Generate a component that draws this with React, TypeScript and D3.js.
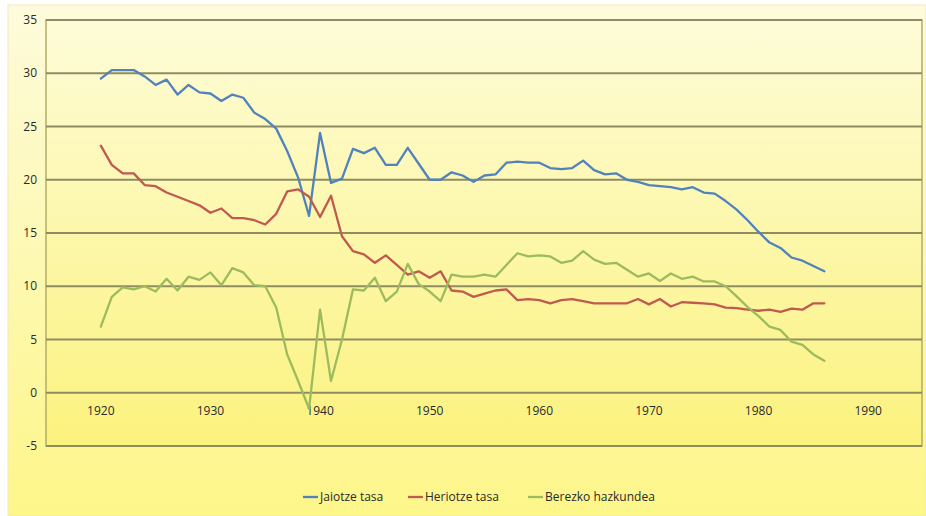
import React, { useEffect, useRef } from 'react';
import * as d3 from 'd3';

const years = d3.range(1920, 1987);

// Jaiotze tasa (birth rate)
const birthRate = [
  29.5, 30.3, 30.3, 30.3, 29.7, 28.9, 29.4, 28.0, 28.9, 28.2,
  28.1, 27.4, 28.0, 27.7, 26.3, 25.7, 24.8, 22.7, 20.2, 16.6,
  24.4, 19.7, 20.1, 22.9, 22.5, 23.0, 21.4, 21.4, 23.0, 21.5,
  20.0, 20.0, 20.7, 20.4, 19.8, 20.4, 20.5, 21.6, 21.7, 21.6,
  21.6, 21.1, 21.0, 21.1, 21.8, 20.9, 20.5, 20.6, 20.0, 19.8,
  19.5, 19.4, 19.3, 19.1, 19.3, 18.8, 18.7, 18.0, 17.2, 16.2,
  15.1, 14.1, 13.6, 12.7, 12.4, 11.9, 11.4,
];

// Heriotze tasa (death rate)
const deathRate = [
  23.2, 21.4, 20.6, 20.6, 19.5, 19.4, 18.8, 18.4, 18.0, 17.6,
  16.9, 17.3, 16.4, 16.4, 16.2, 15.8, 16.8, 18.9, 19.1, 18.4,
  16.5, 18.5, 14.7, 13.3, 13.0, 12.2, 12.9, 12.0, 11.1, 11.4,
  10.8, 11.4, 9.6, 9.5, 9.0, 9.3, 9.6, 9.7, 8.7, 8.8,
  8.7, 8.4, 8.7, 8.8, 8.6, 8.4, 8.4, 8.4, 8.4, 8.8,
  8.3, 8.8, 8.1, 8.5, 8.45, 8.4, 8.3, 8.0, 7.95, 7.8,
  7.7, 7.8, 7.6, 7.9, 7.8, 8.4, 8.4,
];

// Berezko hazkundea (natural growth)
const naturalGrowth = [
  6.2, 9.0, 9.9, 9.7, 10.0, 9.5, 10.7, 9.6, 10.9, 10.6,
  11.3, 10.1, 11.7, 11.3, 10.1, 10.0, 8.0, 3.6, 1.1, -1.5,
  7.8, 1.1, 5.0, 9.7, 9.6, 10.8, 8.6, 9.5, 12.1, 10.2,
  9.5, 8.6, 11.1, 10.9, 10.9, 11.1, 10.9, 12.0, 13.1, 12.8,
  12.9, 12.8, 12.2, 12.4, 13.3, 12.5, 12.1, 12.2, 11.55, 10.9,
  11.2, 10.5, 11.2, 10.7, 10.9, 10.45, 10.45, 10.0, 9.05, 8.05,
  7.2, 6.2, 5.9, 4.8, 4.5, 3.6, 3.0,
];

const yTicks = [-5, 0, 5, 10, 15, 20, 25, 30, 35];
const xTicks = [1920, 1930, 1940, 1950, 1960, 1970, 1980, 1990];

const series = [
  { name: 'Jaiotze tasa', values: birthRate, color: '#5182bb' },
  { name: 'Heriotze tasa', values: deathRate, color: '#bf5a4e' },
  { name: 'Berezko hazkundea', values: naturalGrowth, color: '#9dbb5e' },
];

const W = 926;
const H = 516;

export default function App() {
  const svgRef = useRef<SVGSVGElement>(null);

  useEffect(() => {
    if (!svgRef.current) return;
    const svg = d3.select(svgRef.current);
    svg.selectAll('*').remove();

    const plot = { left: 46, right: 922, top: 20, bottom: 446 };
    const font = '"Open Sans", "Liberation Sans", sans-serif';

    const defs = svg.append('defs');
    const outerGrad = defs.append('linearGradient')
      .attr('id', 'outerGrad').attr('x1', 0).attr('y1', 0).attr('x2', 0).attr('y2', 1);
    outerGrad.append('stop').attr('offset', '0%').attr('stop-color', '#fdfbdc');
    outerGrad.append('stop').attr('offset', '100%').attr('stop-color', '#fdf689');

    const plotGrad = defs.append('linearGradient')
      .attr('id', 'plotGrad').attr('x1', 0).attr('y1', 0).attr('x2', 0).attr('y2', 1);
    plotGrad.append('stop').attr('offset', '0%').attr('stop-color', '#fefcd8');
    plotGrad.append('stop').attr('offset', '100%').attr('stop-color', '#fbf27e');

    svg.append('rect').attr('width', W).attr('height', H).attr('fill', '#ffffff');
    svg.append('rect')
      .attr('x', 8).attr('y', 5).attr('width', W - 8).attr('height', H - 5)
      .attr('fill', 'url(#outerGrad)')
      .attr('stroke', '#efe9b8').attr('stroke-width', 1);

    const x = d3.scaleLinear().domain([1915, 1995]).range([plot.left, plot.right + 1]);
    const y = d3.scaleLinear().domain([-5, 35]).range([plot.bottom, plot.top]);

    svg.append('rect')
      .attr('x', plot.left).attr('y', plot.top)
      .attr('width', plot.right - plot.left).attr('height', plot.bottom - plot.top)
      .attr('fill', 'url(#plotGrad)')
      .attr('stroke', '#b3ad66').attr('stroke-width', 1.5);

    // horizontal gridlines
    svg.append('g')
      .selectAll('line')
      .data(yTicks)
      .enter()
      .append('line')
      .attr('x1', plot.left).attr('x2', plot.right)
      .attr('y1', d => y(d)).attr('y2', d => y(d))
      .attr('stroke', '#8f8c62')
      .attr('stroke-width', 2);

    // y labels
    svg.append('g')
      .selectAll('text')
      .data(yTicks)
      .enter()
      .append('text')
      .attr('x', 37)
      .attr('y', d => y(d) + 4)
      .attr('text-anchor', 'end')
      .style('font-family', font)
      .style('font-size', '12px')
      .attr('fill', '#2a2a2a')
      .text(d => d);

    // x labels, sitting under the zero line
    svg.append('g')
      .selectAll('text')
      .data(xTicks)
      .enter()
      .append('text')
      .attr('x', d => x(d))
      .attr('y', y(0) + 22)
      .attr('text-anchor', 'middle')
      .style('font-family', font)
      .style('font-size', '12px')
      .attr('fill', '#2a2a2a')
      .text(d => d);

    const line = d3.line<number>()
      .x((_, i) => x(years[i]))
      .y(d => y(d));

    series.forEach(s => {
      svg.append('path')
        .datum(s.values)
        .attr('d', line)
        .attr('fill', 'none')
        .attr('stroke', s.color)
        .attr('stroke-width', 2.3)
        .attr('stroke-linejoin', 'round')
        .attr('stroke-linecap', 'round');
    });

    // legend
    const legendY = 497;
    const legendX = [303, 408, 528];
    const legend = svg.append('g');
    series.forEach((s, i) => {
      legend.append('line')
        .attr('x1', legendX[i]).attr('x2', legendX[i] + 15)
        .attr('y1', legendY).attr('y2', legendY)
        .attr('stroke', s.color).attr('stroke-width', 2.3);
      legend.append('text')
        .attr('x', legendX[i] + 17)
        .attr('y', legendY + 4)
        .style('font-family', font)
        .style('font-size', '12px')
        .attr('fill', '#2a2a2a')
        .text(s.name);
    });
  }, []);

  return (
    <svg
      ref={svgRef}
      width={W}
      height={H}
      style={{ position: 'absolute', left: 0, top: 0 }}
    />
  );
}
